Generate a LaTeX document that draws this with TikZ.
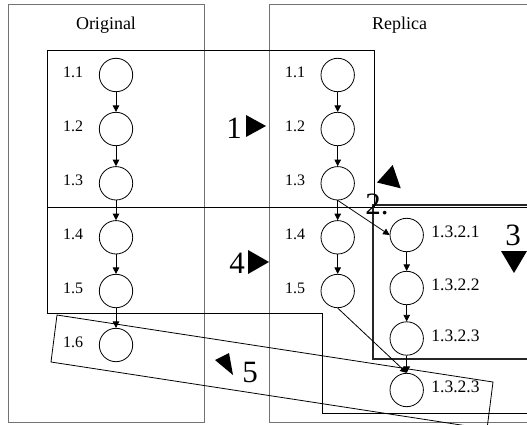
\documentclass[tikz,border=0pt]{standalone}
\usepackage{fontspec}
\setmainfont{Liberation Serif}
\usetikzlibrary{arrows.meta}
\begin{document}
\begin{tikzpicture}[x=1pt,y=-1pt,
  stage/.style={circle,draw,line width=0.8pt,minimum size=33.4pt,inner sep=0pt,fill=white},
  lbl/.style={inner sep=0pt,font=\fontsize{16}{17}\selectfont},
  sublbl/.style={inner sep=0pt,font=\fontsize{17.5}{18}\selectfont},
  big/.style={inner sep=0pt,font=\fontsize{31}{32}\selectfont},
  head/.style={inner sep=0pt,font=\fontsize{18}{19}\selectfont},
  outer/.style={draw=black!55,line width=1pt},
  grp/.style={draw,line width=0.8pt},
  grpthick/.style={draw,line width=1.6pt,black!85},
  flow/.style={-{Triangle[length=6.5pt,width=6.5pt]},line width=0.8pt},
  stepmark/.style={fill=black}]
\useasboundingbox (0,0) rectangle (527,425);
\clip (0,0) rectangle (527,425);
\fill[white] (0,0) rectangle (527,425);
% outer boxes
\draw[outer] (8,5) rectangle (204,422.7);
\draw[outer] (545,5) -- (269,5) -- (269,422) -- (545,422);
% group boxes
\draw[grp] (47,50.7) rectangle (374,207);
\draw[grp] (545,207) -- (47,207) -- (47,313) -- (322,313) -- (322,413) -- (545,413);
\draw[grpthick] (545,205) -- (373,205) -- (373,359) -- (545,359);
\draw[grp] (57,315) -- (493,382) -- (487,429) -- (51,362) -- cycle;
% headings
\node[head] (hOrig) at (106,25) {Original};
\node[head] (hRep) at (399.5,25) {Replica};
% original column
\foreach \i/\y in {1/75,2/129,3/183.3,4/237.3,5/291,6/345}{
  \node[stage] (o\i) at (116,\y) {};
  \node[lbl] (lo\i) at (73,\y-3) {1.\i};
}
% replica column
\foreach \i/\y in {1/75,2/129,3/183.3,4/237.3,5/291}{
  \node[stage] (r\i) at (337.7,\y) {};
  \node[lbl] (lr\i) at (295,\y-3) {1.\i};
}
% sub column
\node[stage] (s1) at (406.7,235) {};
\node[stage] (s2) at (406.7,288) {};
\node[stage] (s3) at (406.7,338.5) {};
\node[stage] (s4) at (406.7,390) {};
\node[sublbl] (ls1) at (455.5,232) {1.3.2.1};
\node[sublbl] (ls2) at (455.5,285) {1.3.2.2};
\node[sublbl] (ls3) at (455.5,335.5) {1.3.2.3};
\node[sublbl] (ls4) at (455.5,387) {1.3.2.3};
% connectors
\draw[flow] (o1) -- (o2);
\draw[flow] (o2) -- (o3);
\draw[flow] (o3) -- (o4);
\draw[flow] (o4) -- (o5);
\draw[flow] (o5) -- (o6);
\draw[flow] (r1) -- (r2);
\draw[flow] (r2) -- (r3);
\draw[flow] (r3) -- (r4);
\draw[flow] (r4) -- (r5);
\draw[flow] (r3.south) -- (s1.west);
\draw[flow] (s1) -- (s2);
\draw[flow] (s2) -- (s3);
\draw[flow] (s3) -- (s4);
\draw[flow] (r5.south) -- (s4.north);
% step markers
\node[big] (n1) at (234,128) {1};
\fill[stepmark] (246,115) -- (266,126) -- (246,137) -- cycle;
\node[big] (n2) at (377,204) {2.};
\fill[stepmark] (377,182.5) -- (392.7,165) -- (400.7,188.3) -- cycle;
\node[big] (n3) at (513,235) {3};
\fill[stepmark] (501,251) -- (527,251) -- (514,273) -- cycle;
\node[big] (n4) at (237,263) {4};
\fill[stepmark] (248,250) -- (269,262) -- (248,274) -- cycle;
\node[big] (n5) at (250,372) {5};
\fill[stepmark] (215,360) -- (229,353) -- (233,375) -- cycle;
\end{tikzpicture}
\end{document}
